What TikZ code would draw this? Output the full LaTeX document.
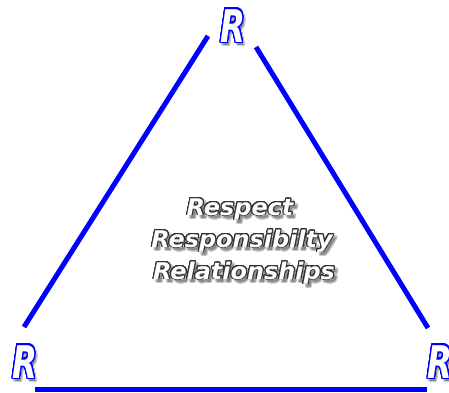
\documentclass[tikz,border=0pt]{standalone}
\usepackage{fontspec}
\usepackage{tikz}
\usepackage{xcolor}
\usepackage{contour}
\newfontfamily\heavyfont{DejaVu Sans Bold Oblique}
\contournumber{32}
% white letters with a coloured rim and a soft grey drop shadow
\newcommand{\shadowed}[3]{%
  \rlap{\hspace{3pt}\raisebox{-3pt}{{\contourlength{1.2pt}\contour{black!22}{\textcolor{black!45}{#3}}}}}%
  {\contourlength{#2}\contour{#1}{\textcolor{white}{#3}}}}

\begin{document}
\begin{tikzpicture}[x=1pt, y=-1pt,
  side/.style={draw=blue, line width=5pt},
  rletter/.style={font=\heavyfont\fontsize{45}{45}\selectfont, inner sep=0pt, anchor=base, xscale=0.72},
  word/.style={font=\heavyfont\fontsize{23}{23}\selectfont, inner sep=0pt, anchor=base, xscale=1.04}]
  \useasboundingbox (0,0) rectangle (449,392);

  % the three R's
  \node[rletter] (rTop) at (233,42) {\shadowed{blue}{1.6pt}{R}};
  \node[rletter] (rLeft) at (25,378) {\shadowed{blue}{1.6pt}{R}};
  \node[rletter] (rRight) at (440,378) {\shadowed{blue}{1.6pt}{R}};

  % sides of the triangle
  \coordinate (leftLow) at (24,327);
  \coordinate (leftHigh) at (208,36);
  \coordinate (rightHigh) at (256,47);
  \coordinate (rightLow) at (428,328);
  \coordinate (baseLeft) at (35,389);
  \coordinate (baseRight) at (427,389);
  \draw[side] (leftLow) -- (leftHigh);
  \draw[side] (rightHigh) -- (rightLow);
  \draw[side] (baseLeft) -- (baseRight);

  % the words in the middle
  \node[word] (respect) at (240,215) {\shadowed{black!80}{0.9pt}{Respect}};
  \node[word] (responsibility) at (242,247) {\shadowed{black!80}{0.9pt}{Responsibilty}};
  \node[word] (relationships) at (244,279) {\shadowed{black!80}{0.9pt}{Relationships}};
\end{tikzpicture}
\end{document}
